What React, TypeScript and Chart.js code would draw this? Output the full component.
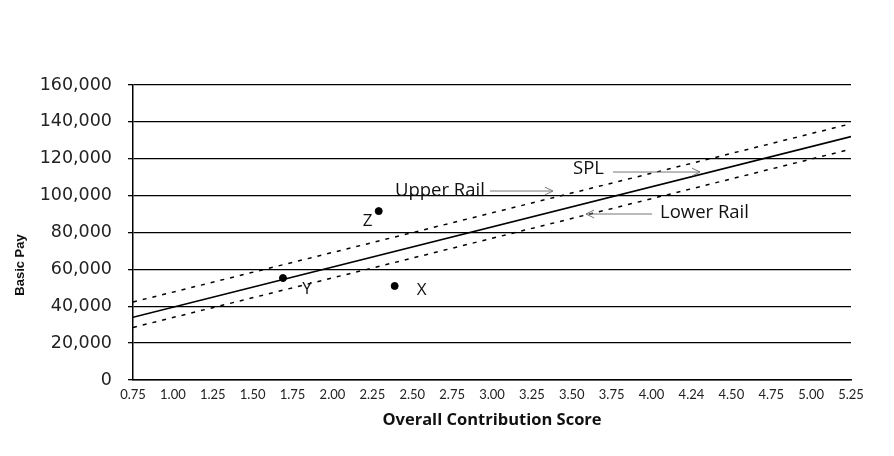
import React, { useEffect, useRef } from "react";
import { Chart, registerables } from "chart.js";

Chart.register(...registerables);

// ---- data ----
const xTickLabels = [
  "0.75", "1.00", "1.25", "1.50", "1.75", "2.00", "2.25", "2.50", "2.75", "3.00",
  "3.25", "3.50", "3.75", "4.00", "4.24", "4.50", "4.75", "5.00", "5.25",
];
const lineX = [0.75, 5.25];
const splValues = [34000, 132000];
const upperRailValues = [42300, 139000];
const lowerRailValues = [28500, 125200];

const pointNames = ["Z", "Y", "X"];
const pointScores = [2.29, 1.69, 2.39];
const pointPay = [91600, 55300, 51000];

// callouts (data coordinates): text anchor and arrow from -> to
const calloutTexts = ["Upper Rail", "SPL", "Lower Rail"];
const calloutTextAt = [
  [2.392, 102500],
  [3.508, 114400],
  [4.053, 90570],
];
const calloutArrowFrom = [
  [2.987, 102500],
  [3.758, 112800],
  [4.003, 90030],
];
const calloutArrowTo = [
  [3.382, 102500],
  [4.304, 112800],
  [3.589, 90030],
];

const FONT_SANS = "'Open Sans', Lato, sans-serif";

export default function App() {
  const canvasRef = useRef<HTMLCanvasElement | null>(null);

  useEffect(() => {
    const canvas = canvasRef.current;
    if (!canvas) return;

    const annotationPlugin = {
      id: "annotationsPlugin",
      afterDatasetsDraw(chart: any) {
        const { ctx, scales } = chart;
        const xs = scales.x;
        const ys = scales.y;
        ctx.save();
        // point labels
        const labelOffsets = [
          [-11, 10],
          [24, 11],
          [27, 4],
        ];
        ctx.fillStyle = "#111";
        ctx.font = `17px ${FONT_SANS}`;
        ctx.textAlign = "center";
        ctx.textBaseline = "middle";
        pointNames.forEach((n, i) => {
          const px = xs.getPixelForValue(pointScores[i]) + labelOffsets[i][0];
          const py = ys.getPixelForValue(pointPay[i]) + labelOffsets[i][1];
          ctx.fillText(n, px, py);
        });
        // callouts
        ctx.font = `18.5px ${FONT_SANS}`;
        ctx.textAlign = "left";
        calloutTexts.forEach((t, i) => {
          const tx = xs.getPixelForValue(calloutTextAt[i][0]);
          const ty = ys.getPixelForValue(calloutTextAt[i][1]);
          ctx.fillStyle = "#111";
          ctx.fillText(t, tx, ty);
          const x1 = xs.getPixelForValue(calloutArrowFrom[i][0]);
          const y1 = ys.getPixelForValue(calloutArrowFrom[i][1]);
          const x2 = xs.getPixelForValue(calloutArrowTo[i][0]);
          const y2 = ys.getPixelForValue(calloutArrowTo[i][1]);
          ctx.strokeStyle = "#777";
          ctx.lineWidth = 1;
          ctx.beginPath();
          ctx.moveTo(x1, y1);
          ctx.lineTo(x2, y2);
          ctx.stroke();
          const ang = Math.atan2(y2 - y1, x2 - x1);
          const hl = 9;
          ctx.beginPath();
          ctx.moveTo(x2 - hl * Math.cos(ang - 0.45), y2 - hl * Math.sin(ang - 0.45));
          ctx.lineTo(x2, y2);
          ctx.lineTo(x2 - hl * Math.cos(ang + 0.45), y2 - hl * Math.sin(ang + 0.45));
          ctx.stroke();
        });
        // y axis title
        ctx.translate(20, 265);
        ctx.rotate(-Math.PI / 2);
        ctx.textAlign = "center";
        ctx.textBaseline = "middle";
        ctx.fillStyle = "#111";
        ctx.font = `bold 13px 'Liberation Sans', Arial, sans-serif`;
        ctx.fillText("Basic Pay", 0, 0);
        ctx.restore();
      },
    };

    const toPts = (xv: number[], yv: number[]) => xv.map((x, i) => ({ x, y: yv[i] }));

    const chart = new Chart(canvas, {
      type: "scatter",
      data: {
        datasets: [
          {
            type: "line",
            label: "SPL",
            data: toPts(lineX, splValues),
            borderColor: "#000",
            borderWidth: 1.6,
            pointRadius: 0,
            showLine: true,
          } as any,
          {
            type: "line",
            label: "Upper Rail",
            data: toPts(lineX, upperRailValues),
            borderColor: "#000",
            borderWidth: 1.5,
            borderDash: [4, 6],
            pointRadius: 0,
            showLine: true,
          } as any,
          {
            type: "line",
            label: "Lower Rail",
            data: toPts(lineX, lowerRailValues),
            borderColor: "#000",
            borderWidth: 1.5,
            borderDash: [4, 6],
            pointRadius: 0,
            showLine: true,
          } as any,
          {
            type: "scatter",
            label: "Employees",
            data: toPts(pointScores, pointPay),
            backgroundColor: "#000",
            borderColor: "#000",
            pointRadius: 3.5,
          },
        ],
      },
      options: {
        animation: false,
        responsive: true,
        maintainAspectRatio: false,
        layout: { padding: { top: 85, right: 43, left: 0, bottom: 0 } },
        plugins: {
          legend: { display: false },
          tooltip: { enabled: false },
        },
        scales: {
          x: {
            type: "linear",
            min: 0.75,
            max: 5.25,
            afterFit: (s: any) => {
              s.height = 76;
            },
            ticks: {
              stepSize: 0.25,
              autoSkip: false,
              maxRotation: 0,
              padding: 7,
              color: "#222",
              font: { family: "Lato, sans-serif", size: 13 },
              callback: (_v: any, i: number) => xTickLabels[i],
            },
            grid: { display: false, drawTicks: false },
            border: { display: true, color: "#000", width: 1.5 },
            title: {
              display: true,
              text: "Overall Contribution Score",
              color: "#111",
              font: { family: FONT_SANS, size: 16.5, weight: "bold" },
              padding: { top: 0, bottom: 26 },
            },
          },
          y: {
            min: 0,
            max: 160000,
            afterFit: (s: any) => {
              s.width = 133;
            },
            ticks: {
              stepSize: 20000,
              padding: 16,
              color: "#222",
              font: { family: "'DejaVu Sans', sans-serif", size: 17.5 },
              callback: (v: any) => Number(v).toLocaleString("en-US"),
            },
            grid: {
              color: "#000",
              lineWidth: 1.3,
              tickLength: 5,
              drawTicks: true,
            },
            border: { display: true, color: "#000", width: 1.5 },
          },
        },
      },
      plugins: [annotationPlugin],
    });

    return () => chart.destroy();
  }, []);

  return (
    <div
      style={{
        position: "fixed",
        left: 0,
        top: 0,
        width: 894,
        height: 456,
        background: "#fff",
      }}
    >
      <canvas ref={canvasRef} />
    </div>
  );
}
